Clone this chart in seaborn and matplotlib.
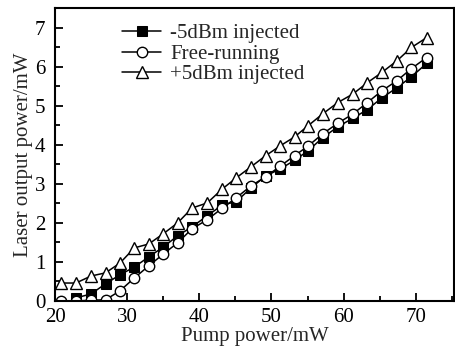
import numpy as np
import pandas as pd
import matplotlib
matplotlib.use("Agg")
import matplotlib.pyplot as plt
import seaborn as sns
from matplotlib.ticker import MultipleLocator

pump = [20.8, 22.9, 25.0, 27.0, 29.0, 31.0, 33.0, 35.0, 37.0, 39.0, 41.1, 43.2, 45.1,
        47.2, 49.2, 51.2, 53.2, 55.1, 57.1, 59.2, 61.3, 63.3, 65.3, 67.4, 69.4, 71.5]
minus5 = [None, 0.08, 0.18, 0.44, 0.67, 0.87, 1.13, 1.38, 1.67, 1.90, 2.18, 2.46, 2.54,
          2.90, 3.20, 3.38, 3.60, 3.85, 4.18, 4.46, 4.68, 4.90, 5.20, 5.46, 5.74, 6.08]
free = [0.00, 0.00, 0.02, 0.03, 0.26, 0.59, 0.90, 1.20, 1.49, 1.85, 2.08, 2.38, 2.64,
        2.95, 3.18, 3.45, 3.72, 3.97, 4.28, 4.55, 4.79, 5.08, 5.38, 5.64, 5.95, 6.23]
plus5 = [0.46, 0.46, 0.64, 0.72, 0.97, 1.36, 1.46, 1.72, 2.00, 2.38, 2.51, 2.87, 3.15,
         3.44, 3.72, 3.97, 4.20, 4.49, 4.79, 5.08, 5.30, 5.59, 5.85, 6.15, 6.49, 6.74]
labels = ["-5dBm injected", "Free-running", "+5dBm injected"]

sns.set_style("ticks")
plt.rcParams['font.family'] = ['Liberation Serif', 'DejaVu Serif']

fig = plt.figure(figsize=(4.56, 3.47), dpi=100)
ax = fig.add_axes([55/456, 1 - 301/347, (454-55)/456, (301-8)/347])

styles = [
    dict(marker='s', markersize=6.5, markerfacecolor='black', markeredgecolor='black'),
    dict(marker='o', markersize=7.5, markerfacecolor='white', markeredgecolor='black', markeredgewidth=1.0),
    dict(marker='^', markersize=8.5, markerfacecolor='white', markeredgecolor='black', markeredgewidth=1.0),
]
for lab, vals, st in zip(labels, [minus5, free, plus5], styles):
    df = pd.DataFrame({"x": pump, "y": vals}).dropna()
    sns.lineplot(data=df, x="x", y="y", ax=ax, color='black', linewidth=1.1,
                 label=lab, **st)

ax.set_xlim(20, 75.3)
ax.set_ylim(0, 7.5)
ax.xaxis.set_major_locator(MultipleLocator(10))
ax.xaxis.set_minor_locator(MultipleLocator(5))
ax.yaxis.set_major_locator(MultipleLocator(1))
ax.yaxis.set_minor_locator(MultipleLocator(0.5))
ax.tick_params(which='both', direction='in', top=False, right=False, colors='black',
               labelsize=15, width=1.3)
ax.tick_params(which='major', length=6)
ax.tick_params(axis='x', which='major', pad=5)
ax.tick_params(axis='y', which='major', pad=7)
ax.tick_params(which='minor', length=3.5)
for s in ax.spines.values():
    s.set_linewidth(1.5)
    s.set_color('black')
    s.set_visible(True)
ax.set_xlabel("Pump power/mW", fontsize=15, labelpad=0)
ax.set_ylabel("Laser output power/mW", fontsize=15, labelpad=1)

leg = ax.legend(loc='upper left', bbox_to_anchor=(0.148, 0.975), frameon=False,
                fontsize=15, handlelength=1.85, handletextpad=0.45, labelspacing=0.05,
                borderaxespad=0)

fig.savefig("out.png", dpi=100)
